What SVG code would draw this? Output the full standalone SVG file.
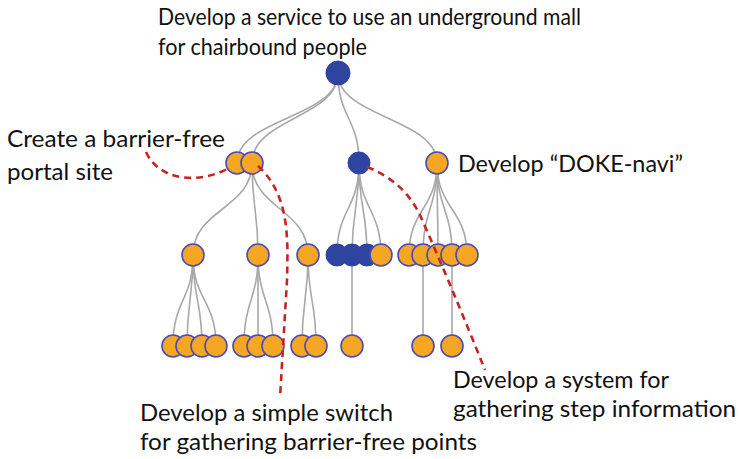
<svg xmlns="http://www.w3.org/2000/svg" width="739" height="459" viewBox="0 0 739 459">
<style>
.lbl{font-family:Lato,"Open Sans","Liberation Sans",sans-serif;font-size:24px;fill:#111}
.e{fill:none;stroke:#a8a8a8;stroke-width:1.6}
.o{fill:#f5a623;stroke:#4b4ab8;stroke-width:1.6}
.b{fill:#2f44a0;stroke:#2f44a0;stroke-width:1}
.r{fill:none;stroke:#c9231f;stroke-width:2.6;stroke-dasharray:7,5}
</style>
<rect width="739" height="459" fill="#fff"/>
<g id="connectors">
<path class="e" d="M338,73 C338,118 237,118 237,163"/>
<path class="e" d="M338,73 C338,118 252,118 252,163"/>
<path class="e" d="M338,73 C338,118 359,118 359,163"/>
<path class="e" d="M338,73 C338,118 437,118 437,163"/>
<path class="e" d="M252,163 C252,209 193,209 193,255"/>
<path class="e" d="M252,163 C252,209 258,209 258,255"/>
<path class="e" d="M252,163 C252,209 308,209 308,255"/>
<path class="e" d="M359,163 C359,209 337,209 337,255"/>
<path class="e" d="M359,163 C359,209 352,209 352,255"/>
<path class="e" d="M359,163 C359,209 367,209 367,255"/>
<path class="e" d="M359,163 C359,209 381,209 381,255"/>
<path class="e" d="M437,163 C437,209 409,209 409,255"/>
<path class="e" d="M437,163 C437,209 423,209 423,255"/>
<path class="e" d="M437,163 C437,209 438,209 438,255"/>
<path class="e" d="M437,163 C437,209 452,209 452,255"/>
<path class="e" d="M437,163 C437,209 467,209 467,255"/>
<path class="e" d="M193,255 C193,300 173,300 173,346"/>
<path class="e" d="M193,255 C193,300 187,300 187,346"/>
<path class="e" d="M193,255 C193,300 202,300 202,346"/>
<path class="e" d="M193,255 C193,300 216,300 216,346"/>
<path class="e" d="M258,255 C258,300 244,300 244,346"/>
<path class="e" d="M258,255 C258,300 258,300 258,346"/>
<path class="e" d="M258,255 C258,300 273,300 273,346"/>
<path class="e" d="M308,255 C308,300 302,300 302,346"/>
<path class="e" d="M308,255 C308,300 316,300 316,346"/>
<path class="e" d="M352,255 L352,346"/>
<path class="e" d="M423,255 L423,346"/>
<path class="e" d="M452,255 L452,346"/>
</g>
<g id="root"><circle class="b" cx="338" cy="73" r="12"/></g>
<g id="n1a"><circle class="o" cx="237" cy="163" r="11"/></g>
<g id="n1b"><circle class="o" cx="252" cy="163" r="11"/></g>
<g id="n1c"><circle class="b" cx="359" cy="163" r="11"/></g>
<g id="n1d"><circle class="o" cx="437" cy="163" r="11"/></g>
<g id="n2-1"><circle class="o" cx="193" cy="255" r="11"/></g>
<g id="n2-2"><circle class="o" cx="258" cy="255" r="11"/></g>
<g id="n2-3"><circle class="o" cx="308" cy="255" r="11"/></g>
<g id="n2-4"><circle class="b" cx="337" cy="255" r="11"/></g>
<g id="n2-5"><circle class="b" cx="352" cy="255" r="11"/></g>
<g id="n2-6"><circle class="b" cx="367" cy="255" r="11"/></g>
<g id="n2-7"><circle class="o" cx="381" cy="255" r="11"/></g>
<g id="n2-8"><circle class="o" cx="409" cy="255" r="11"/></g>
<g id="n2-9"><circle class="o" cx="423" cy="255" r="11"/></g>
<g id="n2-10"><circle class="o" cx="438" cy="255" r="11"/></g>
<g id="n2-11"><circle class="o" cx="452" cy="255" r="11"/></g>
<g id="n2-12"><circle class="o" cx="467" cy="255" r="11"/></g>
<g id="n3-1"><circle class="o" cx="173" cy="346" r="11"/></g>
<g id="n3-2"><circle class="o" cx="187" cy="346" r="11"/></g>
<g id="n3-3"><circle class="o" cx="202" cy="346" r="11"/></g>
<g id="n3-4"><circle class="o" cx="216" cy="346" r="11"/></g>
<g id="n3-5"><circle class="o" cx="244" cy="346" r="11"/></g>
<g id="n3-6"><circle class="o" cx="258" cy="346" r="11"/></g>
<g id="n3-7"><circle class="o" cx="273" cy="346" r="11"/></g>
<g id="n3-8"><circle class="o" cx="302" cy="346" r="11"/></g>
<g id="n3-9"><circle class="o" cx="316" cy="346" r="11"/></g>
<g id="n3-10"><circle class="o" cx="352" cy="346" r="11"/></g>
<g id="n3-11"><circle class="o" cx="423" cy="346" r="11"/></g>
<g id="n3-12"><circle class="o" cx="452" cy="346" r="11"/></g>
<g id="callouts">
<path class="r" d="M146,152 C160,182 200,184 229,168"/>
<path class="r" d="M258,166 C290,195 288,240 287,280 L280,398"/>
<path class="r" d="M367,167 C395,178 410,195 420,215 C440,260 465,320 485,370"/>
</g>
<g id="labels">
<text class="lbl" x="158" y="25" textLength="423" lengthAdjust="spacingAndGlyphs">Develop a service to use an underground mall</text>
<text class="lbl" x="158" y="55" textLength="209" lengthAdjust="spacingAndGlyphs">for chairbound people</text>
<text class="lbl" x="7" y="147" textLength="218" lengthAdjust="spacingAndGlyphs">Create a barrier-free</text>
<text class="lbl" x="7" y="180" textLength="106" lengthAdjust="spacingAndGlyphs">portal site</text>
<text class="lbl" x="458" y="172" textLength="225" lengthAdjust="spacingAndGlyphs">Develop “DOKE-navi”</text>
<text class="lbl" x="453" y="388" textLength="216" lengthAdjust="spacingAndGlyphs">Develop a system for</text>
<text class="lbl" x="453" y="417" textLength="283" lengthAdjust="spacingAndGlyphs">gathering step information</text>
<text class="lbl" x="140" y="421" textLength="253" lengthAdjust="spacingAndGlyphs">Develop a simple switch</text>
<text class="lbl" x="140" y="450" textLength="337" lengthAdjust="spacingAndGlyphs">for gathering barrier-free points</text>
</g>
</svg>
